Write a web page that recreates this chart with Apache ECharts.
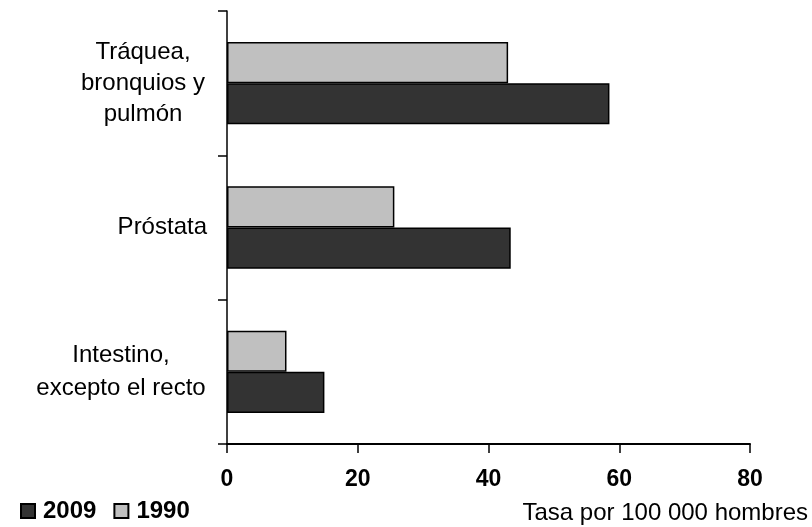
<!DOCTYPE html>
<html>
<head>
<meta charset="utf-8">
<script src="https://cdn.jsdelivr.net/npm/echarts@6/dist/echarts.min.js"></script>
<style>
html,body{margin:0;padding:0;background:#fff;}
#chart{width:812px;height:527px;}
</style>
</head>
<body>
<div id="chart"></div>
<script>
var categories = ['Tráquea,\nbronquios y\npulmón', 'Próstata', 'Intestino,\nexcepto el recto'];
var labelStyles = ['t', 'p', 'i'];
var values1990 = [43.0, 25.6, 9.1];
var values2009 = [58.5, 43.4, 14.9];
var xTicks = [0, 20, 40, 60, 80];

var chart = echarts.init(document.getElementById('chart'));
var FONT = 'Liberation Sans, Arial, sans-serif';

chart.setOption({
  animation: false,
  backgroundColor: '#fff',
  title: {
    text: 'Tasa por 100 000 hombres',
    right: 4,
    top: 501,
    padding: 0,
    textStyle: { fontFamily: FONT, fontSize: 24, fontWeight: 'normal', color: '#000' }
  },
  legend: {
    data: ['2009', '1990'],
    left: 20,
    top: 499,
    padding: 0,
    itemWidth: 14,
    itemHeight: 14,
    itemGap: 17,
    icon: 'rect',
    textStyle: { fontFamily: FONT, fontSize: 24, fontWeight: 'bold', color: '#000', padding: [0, 0, 0, 3] }
  },
  grid: { left: 227, right: 62, top: 11, bottom: 83, containLabel: false },
  xAxis: {
    type: 'value',
    min: xTicks[0],
    max: xTicks[xTicks.length - 1],
    interval: 20,
    splitLine: { show: false },
    axisLine: { show: true, lineStyle: { color: '#000', width: 2 } },
    axisTick: { show: true, length: 9, lineStyle: { color: '#000', width: 1.5 } },
    axisLabel: { margin: 24, fontFamily: FONT, fontSize: 23, fontWeight: 'bold', color: '#000' }
  },
  yAxis: {
    type: 'category',
    inverse: true,
    data: categories,
    axisLine: { show: true, lineStyle: { color: '#000', width: 1.5 } },
    axisTick: { show: true, length: 9, alignWithLabel: false, lineStyle: { color: '#000', width: 1.5 } },
    axisLabel: {
      margin: 20,
      align: 'right',
      fontFamily: FONT,
      fontSize: 24,
      color: '#000',
      formatter: function (v, idx) {
        var s = labelStyles[idx];
        return v.split('\n').map(function (line) { return '{' + s + '|' + line + '}'; }).join('\n');
      },
      rich: {
        t: { width: 128, align: 'center', fontFamily: FONT, fontSize: 24, lineHeight: 31, color: '#000' },
        p: { align: 'right', fontFamily: FONT, fontSize: 24, lineHeight: 31, color: '#000' },
        i: { width: 172, align: 'center', fontFamily: FONT, fontSize: 24, lineHeight: 33, color: '#000' }
      }
    }
  },
  series: [
    {
      name: '1990',
      type: 'bar',
      data: values1990,
      barGap: '0%',
      barCategoryGap: '43%',
      itemStyle: { color: '#c0c0c0', borderColor: '#000', borderWidth: 1.5 }
    },
    {
      name: '2009',
      type: 'bar',
      data: values2009,
      barGap: '0%',
      barCategoryGap: '43%',
      itemStyle: { color: '#333333', borderColor: '#000', borderWidth: 1.5 }
    }
  ]
});
</script>
</body>
</html>
